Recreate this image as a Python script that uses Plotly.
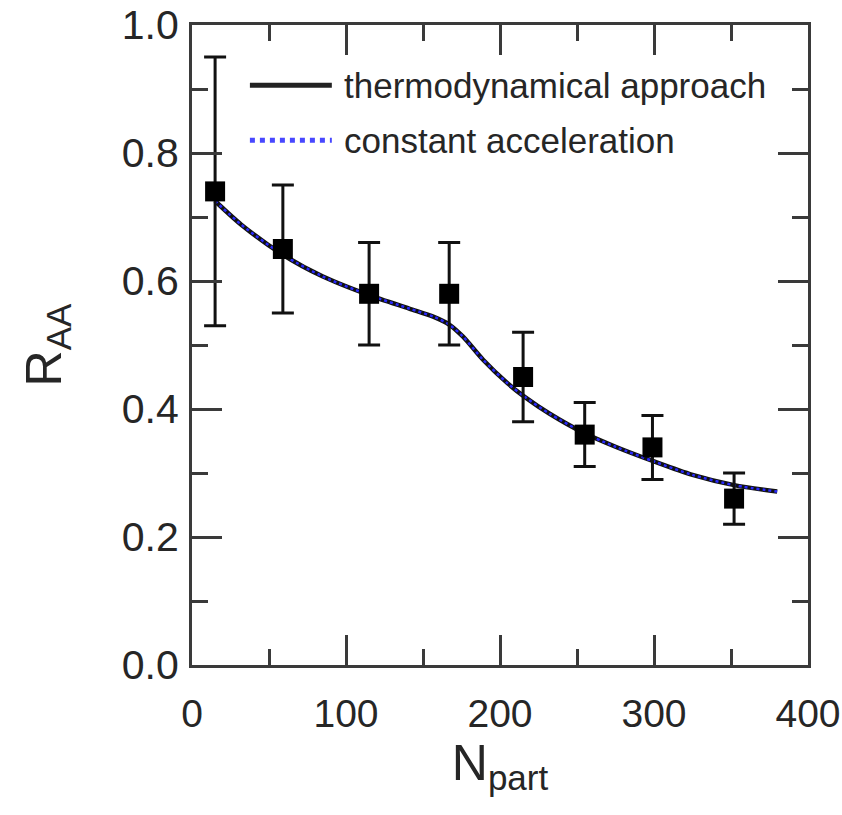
import plotly.graph_objects as go

# Measured nuclear modification factor vs. number of participants
npart = [15, 59, 115, 167, 215, 255, 299, 352]
raa = [0.74, 0.65, 0.58, 0.58, 0.45, 0.36, 0.34, 0.26]
raa_err = [0.21, 0.10, 0.08, 0.08, 0.07, 0.05, 0.05, 0.04]

# Model curves
model_npart = [15, 32, 59, 85, 115, 141, 157, 167, 176, 189, 205, 216, 232, 255, 275, 300, 325, 352, 380]
thermo_raa = [0.725, 0.688, 0.641, 0.607, 0.578, 0.557, 0.544, 0.532, 0.513, 0.477, 0.440,
              0.419, 0.393, 0.362, 0.341, 0.318, 0.297, 0.281, 0.271]
accel_raa = [0.725, 0.688, 0.641, 0.607, 0.578, 0.557, 0.544, 0.532, 0.513, 0.477, 0.440,
             0.419, 0.393, 0.362, 0.341, 0.318, 0.297, 0.281, 0.271]

x_ticks = [0, 100, 200, 300, 400]
y_ticks = [0.0, 0.2, 0.4, 0.6, 0.8, 1.0]

FONT = "Liberation Sans, Arial, Helvetica, sans-serif"
TXT = "#262626"
AX = "#3a3a3a"

fig = go.Figure()

fig.add_trace(go.Scatter(
    x=model_npart, y=thermo_raa, mode="lines",
    line=dict(color="#111111", width=4.5, shape="spline", smoothing=0.8),
    name="thermodynamical approach", showlegend=False,
))
fig.add_trace(go.Scatter(
    x=model_npart, y=accel_raa, mode="lines",
    line=dict(color="#2a2aff", width=2.5, dash="dot", shape="spline", smoothing=0.8),
    name="constant acceleration", showlegend=False,
))
fig.add_trace(go.Scatter(
    x=npart, y=raa, mode="markers",
    marker=dict(symbol="square", size=20, color="black"),
    error_y=dict(type="data", array=raa_err, visible=True,
                 color="#111111", thickness=3, width=11),
    showlegend=False,
))

# Legend drawn inside the frame
legend_items = [
    ("thermodynamical approach", dict(color="#222222", width=5, dash="solid"), 0.906),
    ("constant acceleration", dict(color="#4848ff", width=5, dash="dot"), 0.82),
]
for label, ln, ypos in legend_items:
    fig.add_shape(type="line", xref="paper", yref="paper",
                  x0=0.094, x1=0.227, y0=ypos, y1=ypos, line=ln)
    fig.add_annotation(text=label, xref="paper", yref="paper",
                       x=0.243, y=ypos, xanchor="left", yanchor="middle",
                       showarrow=False, font=dict(family=FONT, size=35, color=TXT))

axis_common = dict(
    showline=True, linecolor=AX, linewidth=3, mirror="allticks",
    ticks="inside", tickcolor=AX, tickwidth=2.5, ticklen=30,
    showgrid=False, zeroline=False, automargin=False,
)

fig.update_xaxes(
    range=[0, 400], tickvals=x_ticks, ticktext=[str(v) for v in x_ticks],
    ticklabelstandoff=12,
    tickfont=dict(family=FONT, size=39, color=TXT),
    minor=dict(ticks="inside", ticklen=16, tickwidth=2.5, tickcolor=AX, dtick=50, tick0=0),
    title=dict(text="N<sub>part</sub>", font=dict(family=FONT, size=50, color=TXT), standoff=10),
    **axis_common,
)
fig.update_yaxes(
    range=[0, 1.0], tickvals=y_ticks, ticktext=[f"{v:.1f}" for v in y_ticks],
    ticklabelstandoff=2,
    tickfont=dict(family=FONT, size=41, color=TXT),
    minor=dict(ticks="inside", ticklen=16, tickwidth=2.5, tickcolor=AX, dtick=0.1, tick0=0),
    title=dict(text="R<sub>AA</sub>", font=dict(family=FONT, size=50, color=TXT), standoff=45),
    **axis_common,
)

fig.update_layout(
    width=842, height=815,
    margin=dict(l=192, r=34, t=25, b=150),
    paper_bgcolor="white", plot_bgcolor="white",
)

fig.write_html("out.html")
